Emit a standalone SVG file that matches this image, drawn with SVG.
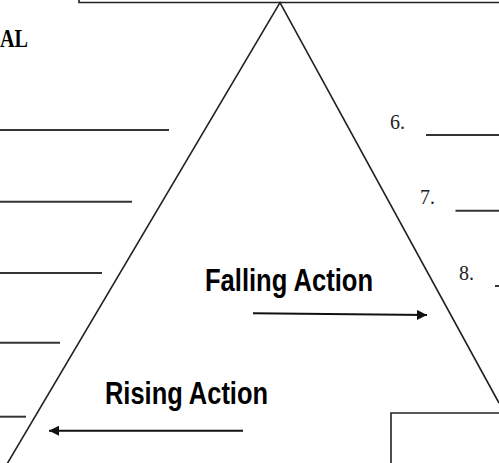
<svg xmlns="http://www.w3.org/2000/svg" width="499" height="463" viewBox="0 0 499 463">
<defs>
<style>
.ln{stroke:#222;stroke-width:1.6;fill:none}
.blank{stroke:#333;stroke-width:2;fill:none}
.num{font-family:"Liberation Serif",serif;font-size:22px;fill:#222}
.lbl{font-family:"Liberation Sans",Arial,sans-serif;font-weight:bold;font-size:31px;fill:#000}
.arr{stroke:#111;stroke-width:2;fill:none}
</style>
<marker id="ah" viewBox="0 0 10 10" refX="10" refY="5" markerWidth="10" markerHeight="10" markerUnits="userSpaceOnUse" orient="auto">
<path d="M0,0 L10,5 L0,10 Z" fill="#111"/>
</marker>
</defs>
<rect width="499" height="463" fill="#fff"/>
<g id="top-box"><path class="ln" d="M79,-2 V2.5 H500"/></g>
<g id="bottom-box"><path class="ln" d="M391,464 V413 H500"/></g>
<g id="triangle"><path class="ln" d="M7,464 L280,2.5 L499,403"/></g>
<g id="title"><text x="0" y="47" font-family="Liberation Serif,serif" font-weight="bold" font-size="25" textLength="28" lengthAdjust="spacingAndGlyphs">AL</text></g>
<g id="left-blanks">
<line class="blank" x1="0" y1="130" x2="169" y2="130"/>
<line class="blank" x1="0" y1="201.7" x2="132" y2="201.7"/>
<line class="blank" x1="0" y1="273" x2="102" y2="273"/>
<line class="blank" x1="0" y1="342.7" x2="60" y2="342.7"/>
<line class="blank" x1="0" y1="416.7" x2="26" y2="416.7"/>
</g>
<g id="item6"><text class="num" x="390" y="129" textLength="15" lengthAdjust="spacingAndGlyphs">6.</text><line class="blank" x1="426" y1="135" x2="499" y2="135"/></g>
<g id="item7"><text class="num" x="420" y="203.5" textLength="15" lengthAdjust="spacingAndGlyphs">7.</text><line class="blank" x1="455.5" y1="210.7" x2="499" y2="210.7"/></g>
<g id="item8"><text class="num" x="459" y="279.5" textLength="15" lengthAdjust="spacingAndGlyphs">8.</text><line class="blank" x1="495" y1="286" x2="499" y2="286"/></g>
<g id="falling-action"><text class="lbl" x="205" y="291" textLength="168" lengthAdjust="spacingAndGlyphs">Falling Action</text></g>
<g id="rising-action"><text class="lbl" x="105" y="403.5" textLength="163" lengthAdjust="spacingAndGlyphs">Rising Action</text></g>
<g id="connectors">
<line class="arr" x1="253" y1="313.3" x2="427" y2="315" marker-end="url(#ah)"/>
<line class="arr" x1="243" y1="430.7" x2="49" y2="430.7" marker-end="url(#ah)"/>
</g>
</svg>
